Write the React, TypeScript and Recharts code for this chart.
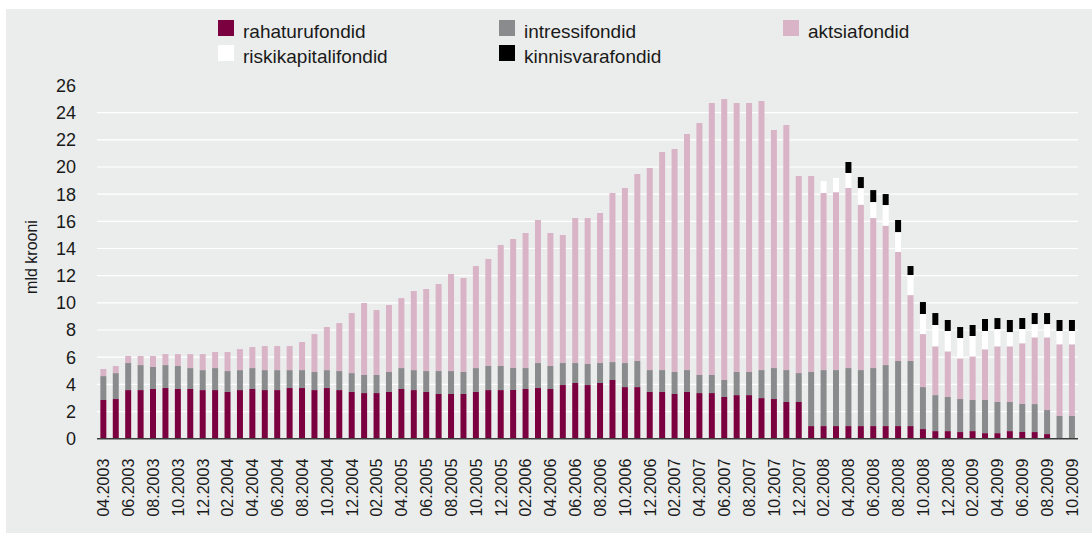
import React from 'react';
import { BarChart, Bar, XAxis, YAxis, CartesianGrid } from 'recharts';

const months = [
  '04.2003','05.2003','06.2003','07.2003','08.2003','09.2003','10.2003','11.2003','12.2003',
  '01.2004','02.2004','03.2004','04.2004','05.2004','06.2004','07.2004','08.2004','09.2004','10.2004','11.2004','12.2004',
  '01.2005','02.2005','03.2005','04.2005','05.2005','06.2005','07.2005','08.2005','09.2005','10.2005','11.2005','12.2005',
  '01.2006','02.2006','03.2006','04.2006','05.2006','06.2006','07.2006','08.2006','09.2006','10.2006','11.2006','12.2006',
  '01.2007','02.2007','03.2007','04.2007','05.2007','06.2007','07.2007','08.2007','09.2007','10.2007','11.2007','12.2007',
  '01.2008','02.2008','03.2008','04.2008','05.2008','06.2008','07.2008','08.2008','09.2008','10.2008','11.2008','12.2008',
  '01.2009','02.2009','03.2009','04.2009','05.2009','06.2009','07.2009','08.2009','09.2009','10.2009',
];

const rahaturufondid = [
  2.85, 2.92, 3.58, 3.58, 3.66, 3.73, 3.66, 3.66, 3.58, 3.58,
  3.44, 3.58, 3.66, 3.58, 3.58, 3.73, 3.73, 3.58, 3.73, 3.58,
  3.44, 3.36, 3.36, 3.44, 3.66, 3.58, 3.44, 3.29, 3.29, 3.29,
  3.44, 3.58, 3.58, 3.58, 3.66, 3.73, 3.66, 3.95, 4.10, 3.95,
  4.10, 4.32, 3.80, 3.80, 3.44, 3.44, 3.29, 3.44, 3.36, 3.36,
  3.07, 3.21, 3.21, 2.99, 2.92, 2.70, 2.70, 0.93, 0.93, 0.93,
  0.93, 0.93, 0.93, 0.93, 0.93, 0.93, 0.71, 0.56, 0.56, 0.49,
  0.56, 0.41, 0.41, 0.56, 0.49, 0.49, 0.34, 0, 0,
];

const intressifondid = [
  1.76, 1.91, 1.99, 1.84, 1.62, 1.69, 1.69, 1.54, 1.47, 1.62,
  1.54, 1.47, 1.54, 1.47, 1.47, 1.32, 1.32, 1.33, 1.32, 1.40,
  1.39, 1.33, 1.33, 1.47, 1.54, 1.47, 1.54, 1.69, 1.69, 1.62,
  1.76, 1.77, 1.77, 1.62, 1.54, 1.84, 1.69, 1.62, 1.47, 1.55,
  1.47, 1.32, 1.77, 1.92, 1.61, 1.61, 1.62, 1.61, 1.33, 1.33,
  1.25, 1.70, 1.70, 2.06, 2.28, 2.35, 2.13, 3.98, 4.12, 4.12,
  4.27, 4.12, 4.27, 4.49, 4.79, 4.79, 3.09, 2.65, 2.51, 2.43,
  2.29, 2.44, 2.29, 2.14, 2.06, 2.06, 1.77, 1.67, 1.67,
];

const aktsiafondid = [
  0.52, 0.52, 0.52, 0.67, 0.81, 0.81, 0.88, 1.03, 1.18, 1.18,
  1.40, 1.55, 1.55, 1.77, 1.77, 1.77, 2.07, 2.79, 3.17, 3.53,
  4.42, 5.30, 4.78, 4.93, 5.15, 5.82, 6.04, 6.41, 7.14, 6.92,
  7.51, 7.88, 8.91, 9.50, 9.94, 10.53, 9.79, 9.42, 10.67, 10.74,
  11.04, 12.44, 12.88, 13.76, 14.87, 16.05, 16.41, 17.38, 18.55, 20.02,
  20.68, 19.80, 19.80, 19.81, 17.52, 18.04, 14.51, 14.43, 13.03, 13.10,
  13.25, 12.18, 11.04, 10.26, 8.03, 4.85, 3.90, 3.59, 3.36, 2.99,
  3.21, 3.73, 4.10, 4.10, 4.47, 4.91, 5.35, 5.28, 5.28,
];

const riskikapitalifondid = [
  0, 0, 0, 0, 0, 0, 0, 0, 0, 0,
  0, 0, 0, 0, 0, 0, 0, 0, 0, 0,
  0, 0, 0, 0, 0, 0, 0, 0, 0, 0,
  0, 0, 0, 0, 0, 0, 0, 0, 0, 0,
  0, 0, 0, 0, 0, 0, 0, 0, 0, 0,
  0, 0, 0, 0, 0, 0, 0, 0, 0.88, 1.04,
  1.11, 1.22, 1.18, 1.52, 1.46, 1.48, 1.48, 1.57, 1.50, 1.50,
  1.50, 1.35, 1.27, 1.05, 1.05, 0.98, 0.98, 0.98, 0.98,
];

const kinnisvarafondid = [
  0, 0, 0, 0, 0, 0, 0, 0, 0, 0,
  0, 0, 0, 0, 0, 0, 0, 0, 0, 0,
  0, 0, 0, 0, 0, 0, 0, 0, 0, 0,
  0, 0, 0, 0, 0, 0, 0, 0, 0, 0,
  0, 0, 0, 0, 0, 0, 0, 0, 0, 0,
  0, 0, 0, 0, 0, 0, 0, 0, 0, 0,
  0.81, 0.81, 0.88, 0.81, 0.89, 0.66, 0.88, 0.88, 0.81, 0.81,
  0.81, 0.88, 0.81, 0.89, 0.81, 0.81, 0.81, 0.81, 0.81,
];

const yTicks = [0, 2, 4, 6, 8, 10, 12, 14, 16, 18, 20, 22, 24, 26];
const gridValues = [2, 4, 6, 8, 10, 12, 14, 16, 18, 20, 22, 24];

const SERIES = [
  { key: 'rahaturufondid', name: 'rahaturufondid', color: '#7b003f', values: rahaturufondid },
  { key: 'intressifondid', name: 'intressifondid', color: '#8a8b8c', values: intressifondid },
  { key: 'aktsiafondid', name: 'aktsiafondid', color: '#d9b3c6', values: aktsiafondid },
  { key: 'riskikapitalifondid', name: 'riskikapitalifondid', color: '#ffffff', values: riskikapitalifondid },
  { key: 'kinnisvarafondid', name: 'kinnisvarafondid', color: '#000000', values: kinnisvarafondid },
];

const data = months.map((m, i) => {
  const row: Record<string, any> = { month: m };
  SERIES.forEach((s) => {
    row[s.key] = s.values[i];
  });
  return row;
});

const FONT = '"Liberation Sans", Arial, Helvetica, sans-serif';
const TEXT = '#1a1a1a';

const XTick = (props: any) => {
  const { x, y, payload } = props;
  const ax = x + 6;
  const ay = y + 20;
  return (
    <text
      x={ax}
      y={ay}
      transform={`rotate(-90 ${ax} ${ay})`}
      textAnchor="end"
      fontSize={16}
      fontFamily={FONT}
      fill={TEXT}
    >
      {payload.value}
    </text>
  );
};

const legendCols = [218, 499, 783];

export default function App() {
  return (
    <div style={{ position: 'absolute', left: 0, top: 0, width: 1092, height: 533, background: '#ffffff', fontFamily: FONT }}>
      <div style={{ position: 'absolute', left: 6, top: 9, width: 1086, height: 524, background: '#ebedec' }} />
      {SERIES.map((s, i) => {
        const col = i % 3;
        const row = Math.floor(i / 3);
        const left = legendCols[col];
        const top = 20 + row * 25;
        return (
          <React.Fragment key={s.key}>
            <div style={{ position: 'absolute', left, top, width: 16, height: 16, background: s.color }} />
            <div style={{ position: 'absolute', left: left + 25, top: top + 2, fontSize: 19, lineHeight: '19px', color: TEXT, whiteSpace: 'nowrap' }}>
              {s.name}
            </div>
          </React.Fragment>
        );
      })}
      <svg style={{ position: 'absolute', left: 0, top: 0 }} width={60} height={533}>
        <text x={37} y={257} transform="rotate(-90 37 257)" textAnchor="middle" fontSize={16} fontFamily={FONT} fill={TEXT}>
          mld krooni
        </text>
      </svg>
      <div style={{ position: 'absolute', left: 0, top: 0 }}>
        <BarChart
          width={1092}
          height={533}
          data={data}
          margin={{ top: 85.5, right: 14, bottom: 0, left: 37 }}
          barCategoryGap="27%"
        >
          <CartesianGrid vertical={false} stroke="#ffffff" strokeWidth={1.2} horizontalValues={gridValues} />
          <XAxis
            dataKey="month"
            interval={1}
            tickLine={false}
            tickSize={0}
            tickMargin={0}
            axisLine={{ stroke: '#3c3c3c', strokeWidth: 1.5 }}
            tick={<XTick />}
            height={94.3}
          />
          <YAxis
            domain={[0, 26]}
            ticks={yTicks}
            axisLine={false}
            tickLine={false}
            tickSize={0}
            tickMargin={21}
            width={60}
            interval={0}
            tick={{ fontSize: 18, fill: TEXT, fontFamily: FONT }}
          />
          {SERIES.map((s) => (
            <Bar key={s.key} dataKey={s.key} name={s.name} stackId="a" fill={s.color} isAnimationActive={false} />
          ))}
        </BarChart>
      </div>
    </div>
  );
}
